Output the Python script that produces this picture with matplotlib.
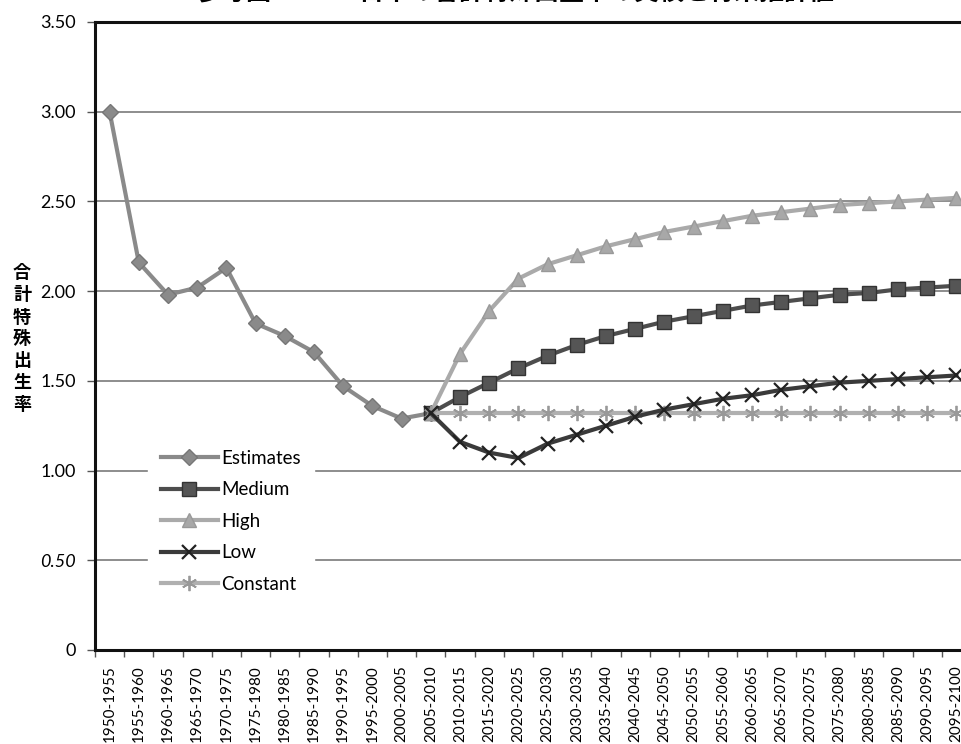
import matplotlib.pyplot as plt
from matplotlib.ticker import FixedLocator, FuncFormatter
import numpy as np

plt.rcParams['font.family'] = ['Lato', 'Noto Sans CJK JP', 'DejaVu Sans']

periods = ['1950-1955', '1955-1960', '1960-1965', '1965-1970', '1970-1975',
           '1975-1980', '1980-1985', '1985-1990', '1990-1995', '1995-2000',
           '2000-2005', '2005-2010', '2010-2015', '2015-2020', '2020-2025',
           '2025-2030', '2030-2035', '2035-2040', '2040-2045', '2045-2050',
           '2050-2055', '2055-2060', '2060-2065', '2065-2070', '2070-2075',
           '2075-2080', '2080-2085', '2085-2090', '2090-2095', '2095-2100']

# observed rates up to 2005-2010
estimates = [3.00, 2.16, 1.98, 2.02, 2.13, 1.82, 1.75, 1.66, 1.47, 1.36, 1.29, 1.32]

# projections start from the 2005-2010 value
medium = [1.32, 1.41, 1.49, 1.57, 1.64, 1.70, 1.75, 1.79, 1.83, 1.86, 1.89,
          1.92, 1.94, 1.96, 1.98, 1.99, 2.01, 2.02, 2.03]
high = [1.32, 1.65, 1.89, 2.07, 2.15, 2.20, 2.25, 2.29, 2.33, 2.36, 2.39,
        2.42, 2.44, 2.46, 2.48, 2.49, 2.50, 2.51, 2.52]
low = [1.32, 1.16, 1.10, 1.07, 1.15, 1.20, 1.25, 1.30, 1.34, 1.37, 1.40,
       1.42, 1.45, 1.47, 1.49, 1.50, 1.51, 1.52, 1.53]
constant = [1.32] * 19

title = '参考図1-1-4　日本の合計特殊出生率の実績と将来推計値'
ylabel = '合計特殊出生率'

fig = plt.figure(figsize=(9.62, 7.44), dpi=100)
ax = fig.add_axes([95 / 962, 94 / 744, 876 / 962, 628 / 744])

x_est = np.arange(len(estimates))
x_proj = np.arange(len(estimates) - 1, len(periods))

ax.plot(x_est, estimates, color='#8a8a8a', lw=3, marker='D', ms=8,
        mfc='#8a8a8a', mec='#777777', label='Estimates', zorder=3)
ax.plot(x_proj, medium, color='#4d4d4d', lw=3, marker='s', ms=10,
        mfc='#555555', mec='#333333', label='Medium', zorder=3)
ax.plot(x_proj, high, color='#aaaaaa', lw=3, marker='^', ms=10,
        mfc='#a8a8a8', mec='#999999', label='High', zorder=3)
ax.plot(x_proj, low, color='#3a3a3a', lw=3, marker='x', ms=10, mew=1.6,
        mec='#222222', label='Low', zorder=4)
ax.plot(x_proj, constant, color='#b0b0b0', lw=3, marker=(6, 2, 0), ms=11,
        mew=1.3, mec='#999999', label='Constant', zorder=3)

ax.set_xlim(-0.5, len(periods) - 0.5)
ax.set_ylim(0, 3.5)

ax.set_xticks(np.arange(len(periods)))
ax.set_xticklabels(periods, rotation=90, fontsize=11)
ax.xaxis.set_minor_locator(FixedLocator(np.arange(-0.5, len(periods), 1)))
ax.tick_params(axis='x', which='major', length=0, pad=11)
ax.tick_params(axis='x', which='minor', length=5, width=1, color='#555555')

ax.set_yticks(np.arange(0, 3.51, 0.5))
ax.yaxis.set_major_formatter(FuncFormatter(lambda v, p: '0' if v == 0 else '%.2f' % v))
ax.tick_params(axis='y', length=6, width=1, color='#555555', labelsize=13, pad=8)
for lab in ax.get_yticklabels():
    if lab.get_text() == '0.50':
        lab.set_fontstyle('italic')

ax.grid(axis='y', color='#7a7a7a', lw=1.2)
ax.set_axisbelow(True)

for side in ['left', 'top', 'bottom']:
    ax.spines[side].set_linewidth(2.2)
    ax.spines[side].set_color('#111111')
ax.spines['right'].set_visible(False)

# vertical stacked axis title
fig.text(22 / 962, 1 - 339 / 744, '\n'.join(ylabel), ha='center', va='center',
         fontsize=13, fontweight='bold', linespacing=1.2,
         family=['Noto Sans CJK JP'])

fig.text(0.535, 1 - 6 / 744, title, ha='center', va='bottom',
         fontsize=18, fontweight='bold', family=['Noto Sans CJK JP'])

leg = ax.legend(loc='upper left', bbox_to_anchor=(0.05, 0.355),
                frameon=True, fontsize=13.5, handlelength=3.0,
                labelspacing=0.78, borderpad=0.7, handletextpad=0.2)
leg.get_frame().set_facecolor('white')
leg.get_frame().set_edgecolor('white')
leg.get_frame().set_alpha(1)

fig.savefig('out.png', dpi=100)
